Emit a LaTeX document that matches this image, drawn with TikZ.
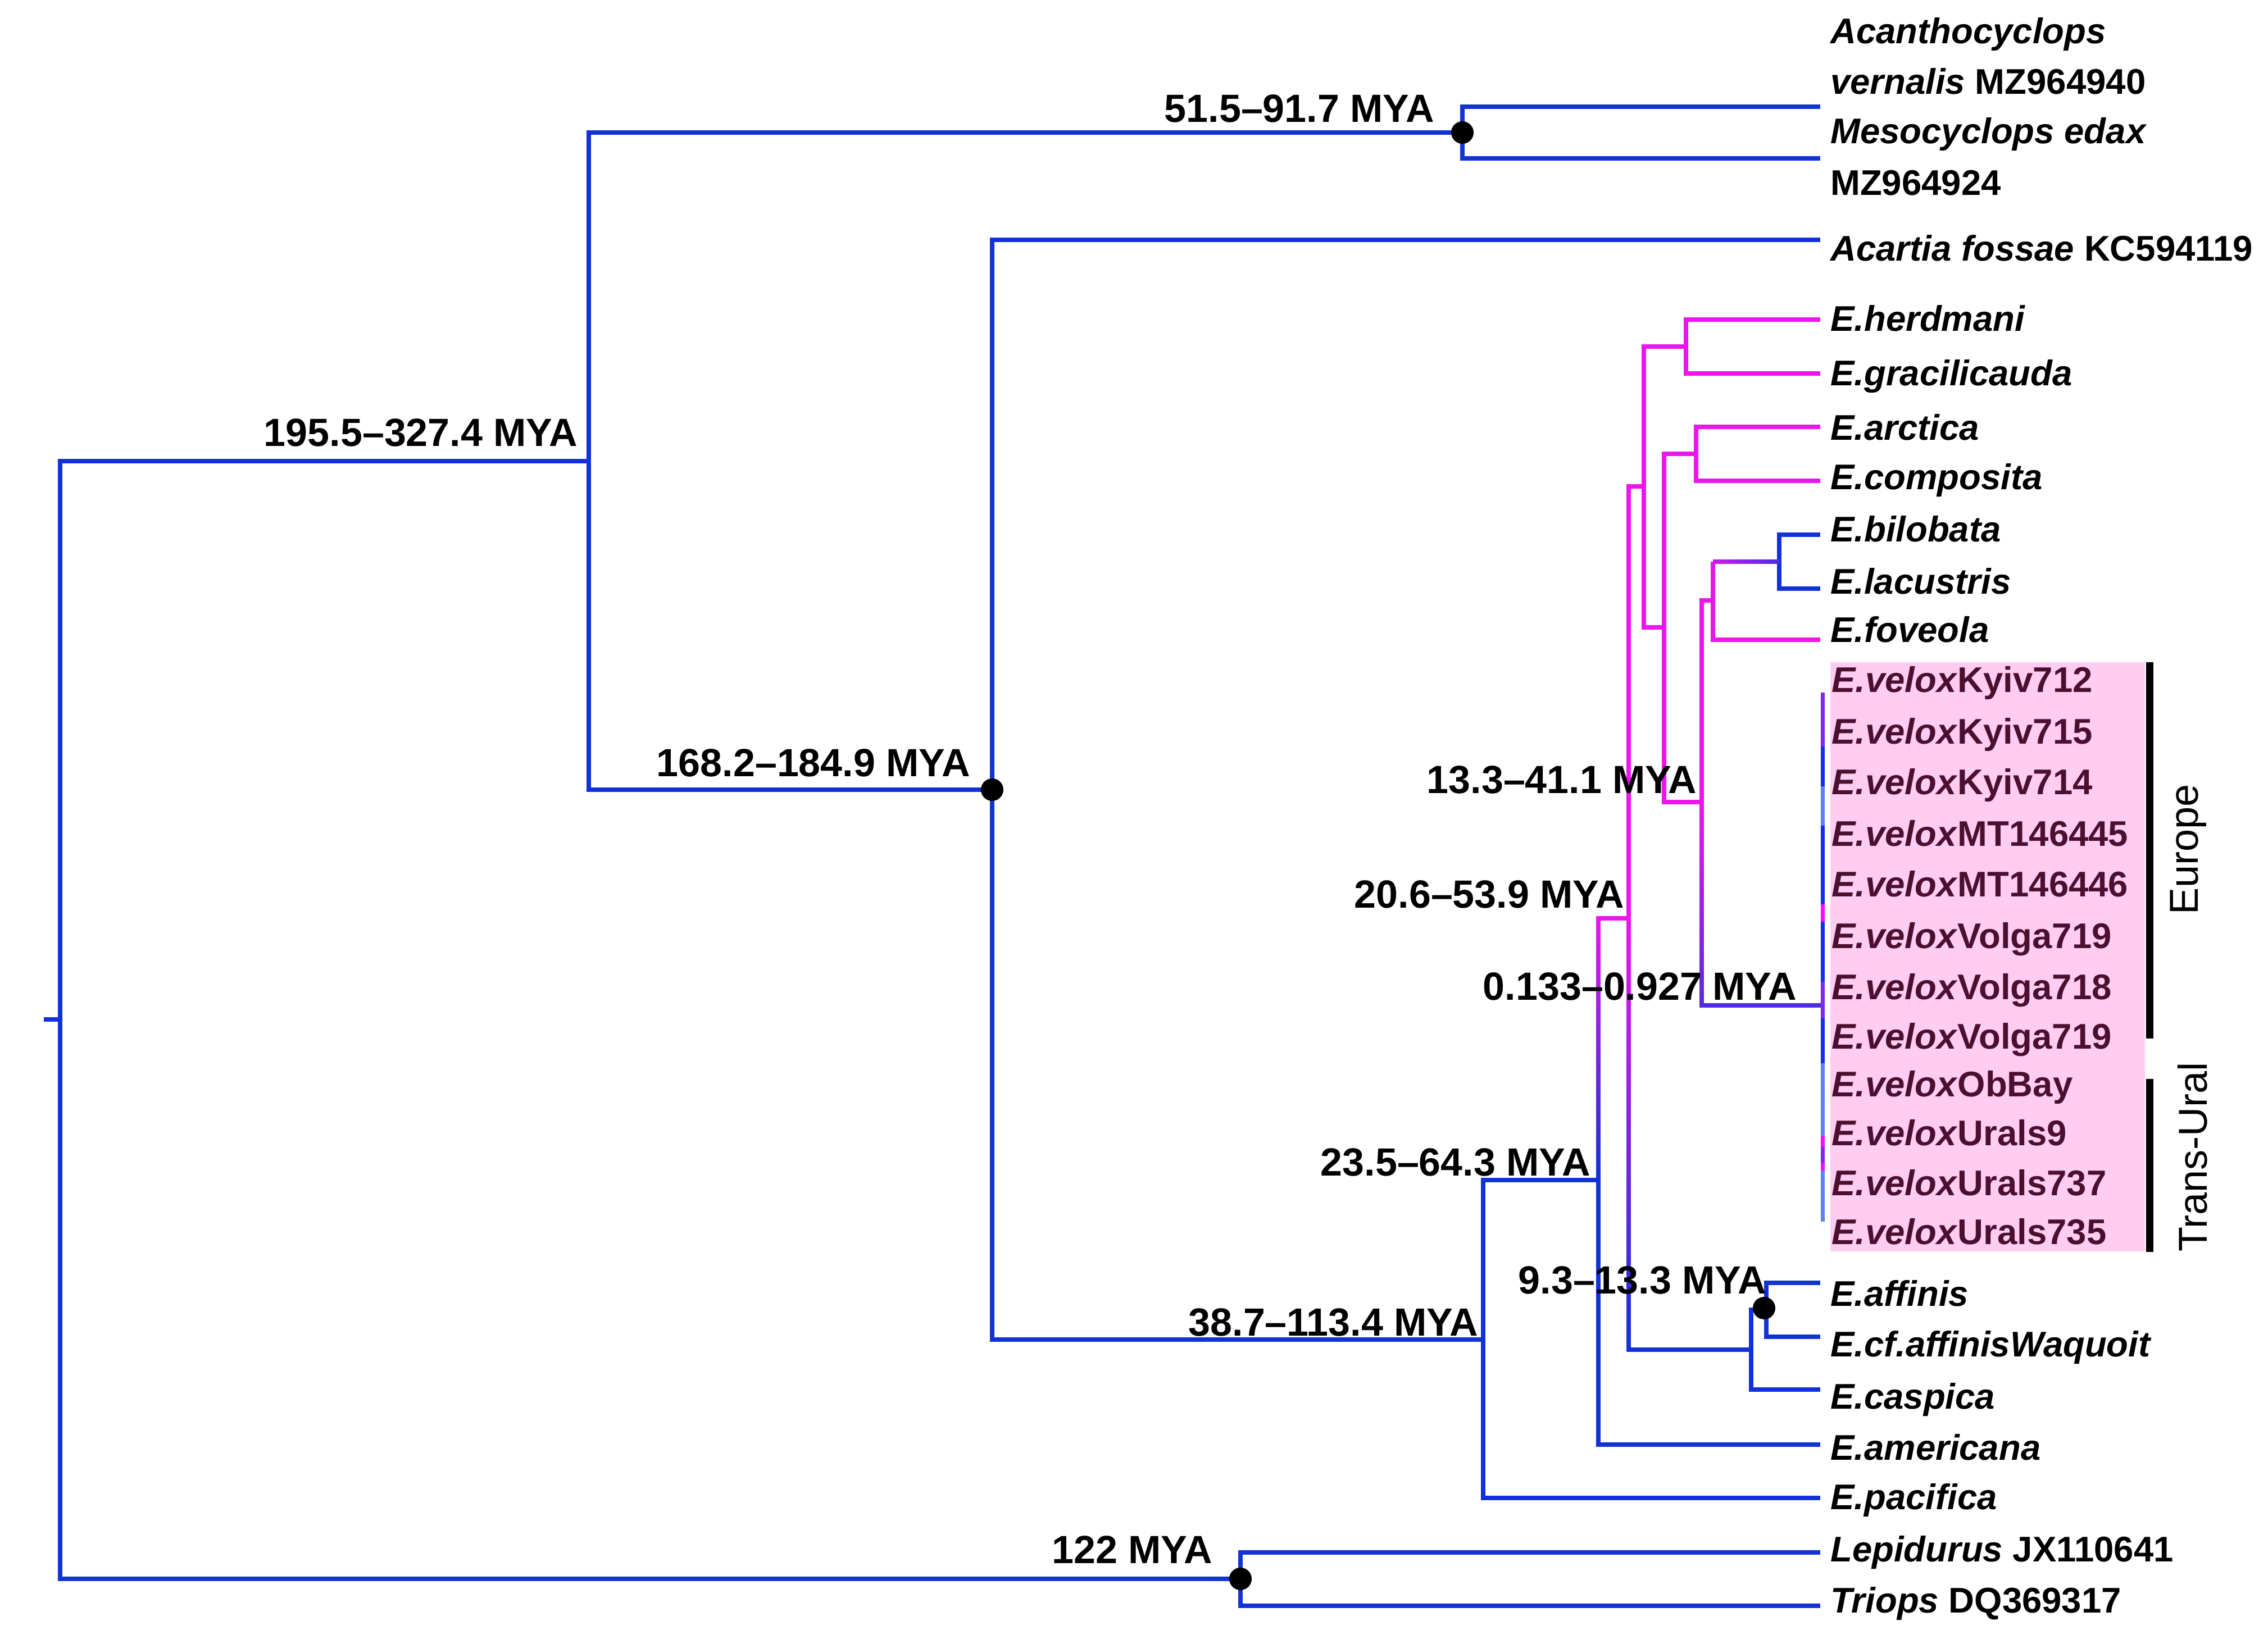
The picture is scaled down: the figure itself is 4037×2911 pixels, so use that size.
\documentclass[tikz,border=0pt]{standalone}
\usepackage{fontspec}
\setmainfont{Liberation Sans}
\definecolor{blu}{RGB}{18,50,215}
\definecolor{mag}{RGB}{238,20,238}
\definecolor{pur}{RGB}{130,40,225}
\definecolor{lblu}{RGB}{95,130,230}
\definecolor{pinkbg}{RGB}{255,205,242}
\definecolor{vtext}{RGB}{75,15,48}
\newcommand\agefnt{\fontsize{70}{84}\selectfont\bfseries}
\newcommand\spfnt{\fontsize{63.5}{76}\selectfont\bfseries}
\newcommand\regfnt{\fontsize{72}{86}\selectfont}
\begin{document}
\begin{tikzpicture}[x=1pt,y=-1pt,
  br/.style={line width=7.5pt,draw=blu,line join=miter},
  mbr/.style={br,draw=mag},
  pbr/.style={br,draw=pur},
  nodedot/.style={circle,fill=black,inner sep=0pt,minimum size=40pt},
  age/.style={font=\agefnt,anchor=base east,inner sep=0pt},
  sp/.style={font=\spfnt,anchor=base west,inner sep=0pt},
  vx/.style={sp,text=vtext},
  grp/.style={font=\regfnt,rotate=90,anchor=base,inner sep=0pt},
  bar/.style={line width=13pt,draw=black}]
\useasboundingbox (0,0) rectangle (4037,2911);

% pink highlight box
\fill[pinkbg] (3258,1179) rectangle (3818,2228);

% internal nodes
\coordinate (stub) at (78,1815);
\coordinate (R) at (107,1815);
\coordinate (A) at (2603,236);
\coordinate (B) at (1048,821);
\coordinate (C) at (1766,1406);
\coordinate (D) at (2640,2385);
\coordinate (E) at (2845,2101);
\coordinate (F) at (2899,1635);
\coordinate (G) at (2926,866);
\coordinate (H) at (3001,617);
\coordinate (I) at (2962,1117);
\coordinate (J) at (3019,808);
\coordinate (K) at (3029,1428);
\coordinate (L) at (3049,1069);
\coordinate (M) at (3167,1000);
\coordinate (V) at (3244,1790);
\coordinate (P) at (3117,2403);
\coordinate (Q) at (3144,2332);
\coordinate (S) at (2208,2811);

% leaf ends
\coordinate (acan) at (3240,190);
\coordinate (meso) at (3240,282);
\coordinate (acar) at (3240,427);
\coordinate (herd) at (3240,569);
\coordinate (grac) at (3240,665);
\coordinate (arct) at (3240,760);
\coordinate (comp) at (3240,856);
\coordinate (bilo) at (3240,952);
\coordinate (lacu) at (3240,1048);
\coordinate (fove) at (3240,1139);
\coordinate (affi) at (3240,2284);
\coordinate (waqu) at (3240,2380);
\coordinate (casp) at (3240,2474);
\coordinate (amer) at (3240,2572);
\coordinate (paci) at (3240,2667);
\coordinate (lepi) at (3240,2764);
\coordinate (trio) at (3240,2859);
\coordinate (vtop) at (3244,1233);
\coordinate (vbot) at (3244,2175);

% blue backbone
\draw[br] (stub) -- (R);
\draw[br] (R) |- (B);
\draw[br] (R) |- (S);
\draw[br] (B) |- (A);
\draw[br] (B) |- (C);
\draw[br] (A) |- (acan);
\draw[br] (A) |- (meso);
\draw[br] (C) |- (acar);
\draw[br] (C) |- (D);
\draw[br] (D) |- (E);
\draw[br] (D) |- (paci);
\draw[br] (E) |- (amer);
\draw[br] (S) |- (lepi);
\draw[br] (S) |- (trio);
\draw[br] (P) |- (Q);
\draw[br] (P) |- (casp);
\draw[br] (Q) |- (affi);
\draw[br] (Q) |- (waqu);
\draw[br] (M) |- (bilo);
\draw[br] (M) |- (lacu);

% gradient stems
\shade[top color=mag,middle color=pur,bottom color=blu]
  ([xshift=-3.75pt,yshift=3.75pt]E |- F) rectangle ([xshift=3.75pt]E);
\draw[mbr] (E |- F) -- (F);
\shade[top color=mag,middle color=mag!55!pur,bottom color=blu]
  ([xshift=-3.75pt]F) rectangle ([xshift=3.75pt,yshift=-3.75pt]F |- P);
\draw[br] (F |- P) -- (P);
\shade[top color=mag,middle color=mag!60!pur,bottom color=pur!60!blu]
  ([xshift=-3.75pt]K) rectangle ([xshift=3.75pt,yshift=-3.75pt]K |- V);
\draw[br,draw=pur!55!blu] (K |- V) -- (V);

% magenta clades
\draw[mbr] (F) |- (G);
\draw[mbr] (G) |- (H);
\draw[mbr] (G) |- (I);
\draw[mbr] (H) |- (herd);
\draw[mbr] (H) |- (grac);
\draw[mbr] (I) |- (J);
\draw[mbr] (I) |- (K);
\draw[mbr] (J) |- (arct);
\draw[mbr] (J) |- (comp);
\draw[mbr] (K) |- (L);
\draw[mbr] (L) |- (fove);
\draw[mbr] (L) |- (L |- M);
\shade[left color=mag!70!pur,right color=pur!50!blu]
  ([yshift=3.75pt]L |- M) rectangle ([yshift=-3.75pt]M);

% velox stem (multicoloured)
\draw[line width=7pt,pur] (vtop) -- (3244,1329);
\draw[line width=7pt,blu] (3244,1329) -- (3244,1400);
\draw[line width=7pt,lblu] (3244,1400) -- (3244,1470);
\draw[line width=7pt,blu] (3244,1470) -- (3244,1610);
\draw[line width=7pt,mag] (3244,1610) -- (3244,1641);
\draw[line width=7pt,blu] (3244,1641) -- (3244,1748);
\draw[line width=7pt,pur] (3244,1748) -- (3244,1813);
\draw[line width=7pt,blu] (3244,1813) -- (3244,1893);
\draw[line width=7pt,lblu] (3244,1893) -- (3244,2023);
\draw[line width=7pt,mag] (3244,2023) -- (3244,2042);
\draw[line width=7pt,pur] (3244,2042) -- (3244,2071);
\draw[line width=7pt,mag] (3244,2071) -- (3244,2084);
\draw[line width=7pt,lblu] (3244,2084) -- (vbot);

% dated nodes
\node[nodedot] (dA) at (A) {};
\node[nodedot] (dC) at (C) {};
\node[nodedot] (dQ) at (3140,2329) {};
\node[nodedot] (dS) at (S) {};

% age labels
\node[age] (a1) at (1028,794) {195.5–327.4 MYA};
\node[age] (a2) at (2553,218) {51.5–91.7 MYA};
\node[age] (a3) at (1727,1382) {168.2–184.9 MYA};
\node[age] (a4) at (3020,1412) {13.3–41.1 MYA};
\node[age] (a5) at (2891,1616) {20.6–53.9 MYA};
\node[age] (a6) at (3198,1780) {0.133–0.927 MYA};
\node[age] (a7) at (2831,2093) {23.5–64.3 MYA};
\node[age] (a8) at (2631,2378) {38.7–113.4 MYA};
\node[age] (a9) at (3144,2303) {9.3–13.3 MYA};
\node[age] (a10) at (2158,2783) {122 MYA};

% species labels
\node[sp] (t1a) at (3258,78) {\itshape Acanthocyclops};
\node[sp] (t1b) at (3258,168) {\textit{vernalis} MZ964940};
\node[sp] (t2a) at (3258,256) {\itshape Mesocyclops edax};
\node[sp] (t2b) at (3258,348) {MZ964924};
\node[sp] (t3) at (3258,464) {\textit{Acartia fossae} KC594119};
\node[sp] (t4) at (3258,589) {\itshape E.herdmani};
\node[sp] (t5) at (3258,686) {\itshape E.gracilicauda};
\node[sp] (t6) at (3258,783) {\itshape E.arctica};
\node[sp] (t7) at (3258,871) {\itshape E.composita};
\node[sp] (t8) at (3258,964) {\itshape E.bilobata};
\node[sp] (t9) at (3258,1057) {\itshape E.lacustris};
\node[sp] (t10) at (3258,1143) {\itshape E.foveola};
\node[vx] (v1) at (3260,1232) {\textit{E.velox}Kyiv712};
\node[vx] (v2) at (3260,1324) {\textit{E.velox}Kyiv715};
\node[vx] (v3) at (3260,1414) {\textit{E.velox}Kyiv714};
\node[vx] (v4) at (3260,1506) {\textit{E.velox}MT146445};
\node[vx] (v5) at (3260,1596) {\textit{E.velox}MT146446};
\node[vx] (v6) at (3260,1688) {\textit{E.velox}Volga719};
\node[vx] (v7) at (3260,1779) {\textit{E.velox}Volga718};
\node[vx] (v8) at (3260,1867) {\textit{E.velox}Volga719};
\node[vx] (v9) at (3260,1952) {\textit{E.velox}ObBay};
\node[vx] (v10) at (3260,2039) {\textit{E.velox}Urals9};
\node[vx] (v11) at (3260,2128) {\textit{E.velox}Urals737};
\node[vx] (v12) at (3260,2215) {\textit{E.velox}Urals735};
\node[sp] (t11) at (3258,2325) {\itshape E.affinis};
\node[sp] (t12) at (3258,2415) {\itshape E.cf.affinisWaquoit};
\node[sp] (t13) at (3258,2508) {\itshape E.caspica};
\node[sp] (t14) at (3258,2599) {\itshape E.americana};
\node[sp] (t15) at (3258,2687) {\itshape E.pacifica};
\node[sp] (t16) at (3258,2780) {\textit{Lepidurus} JX110641};
\node[sp] (t17) at (3258,2871) {\textit{Triops} DQ369317};

% group brackets
\coordinate (eu1) at (3826,1179);
\coordinate (eu2) at (3826,1849);
\coordinate (tu1) at (3826,1921);
\coordinate (tu2) at (3826,2229);
\draw[bar] (eu1) -- (eu2);
\draw[bar] (tu1) -- (tu2);
\node[grp] (eu) at (3912,1512) {Europe};
\node[grp] (tu) at (3928,2060) {Trans-Ural};
\end{tikzpicture}
\end{document}
